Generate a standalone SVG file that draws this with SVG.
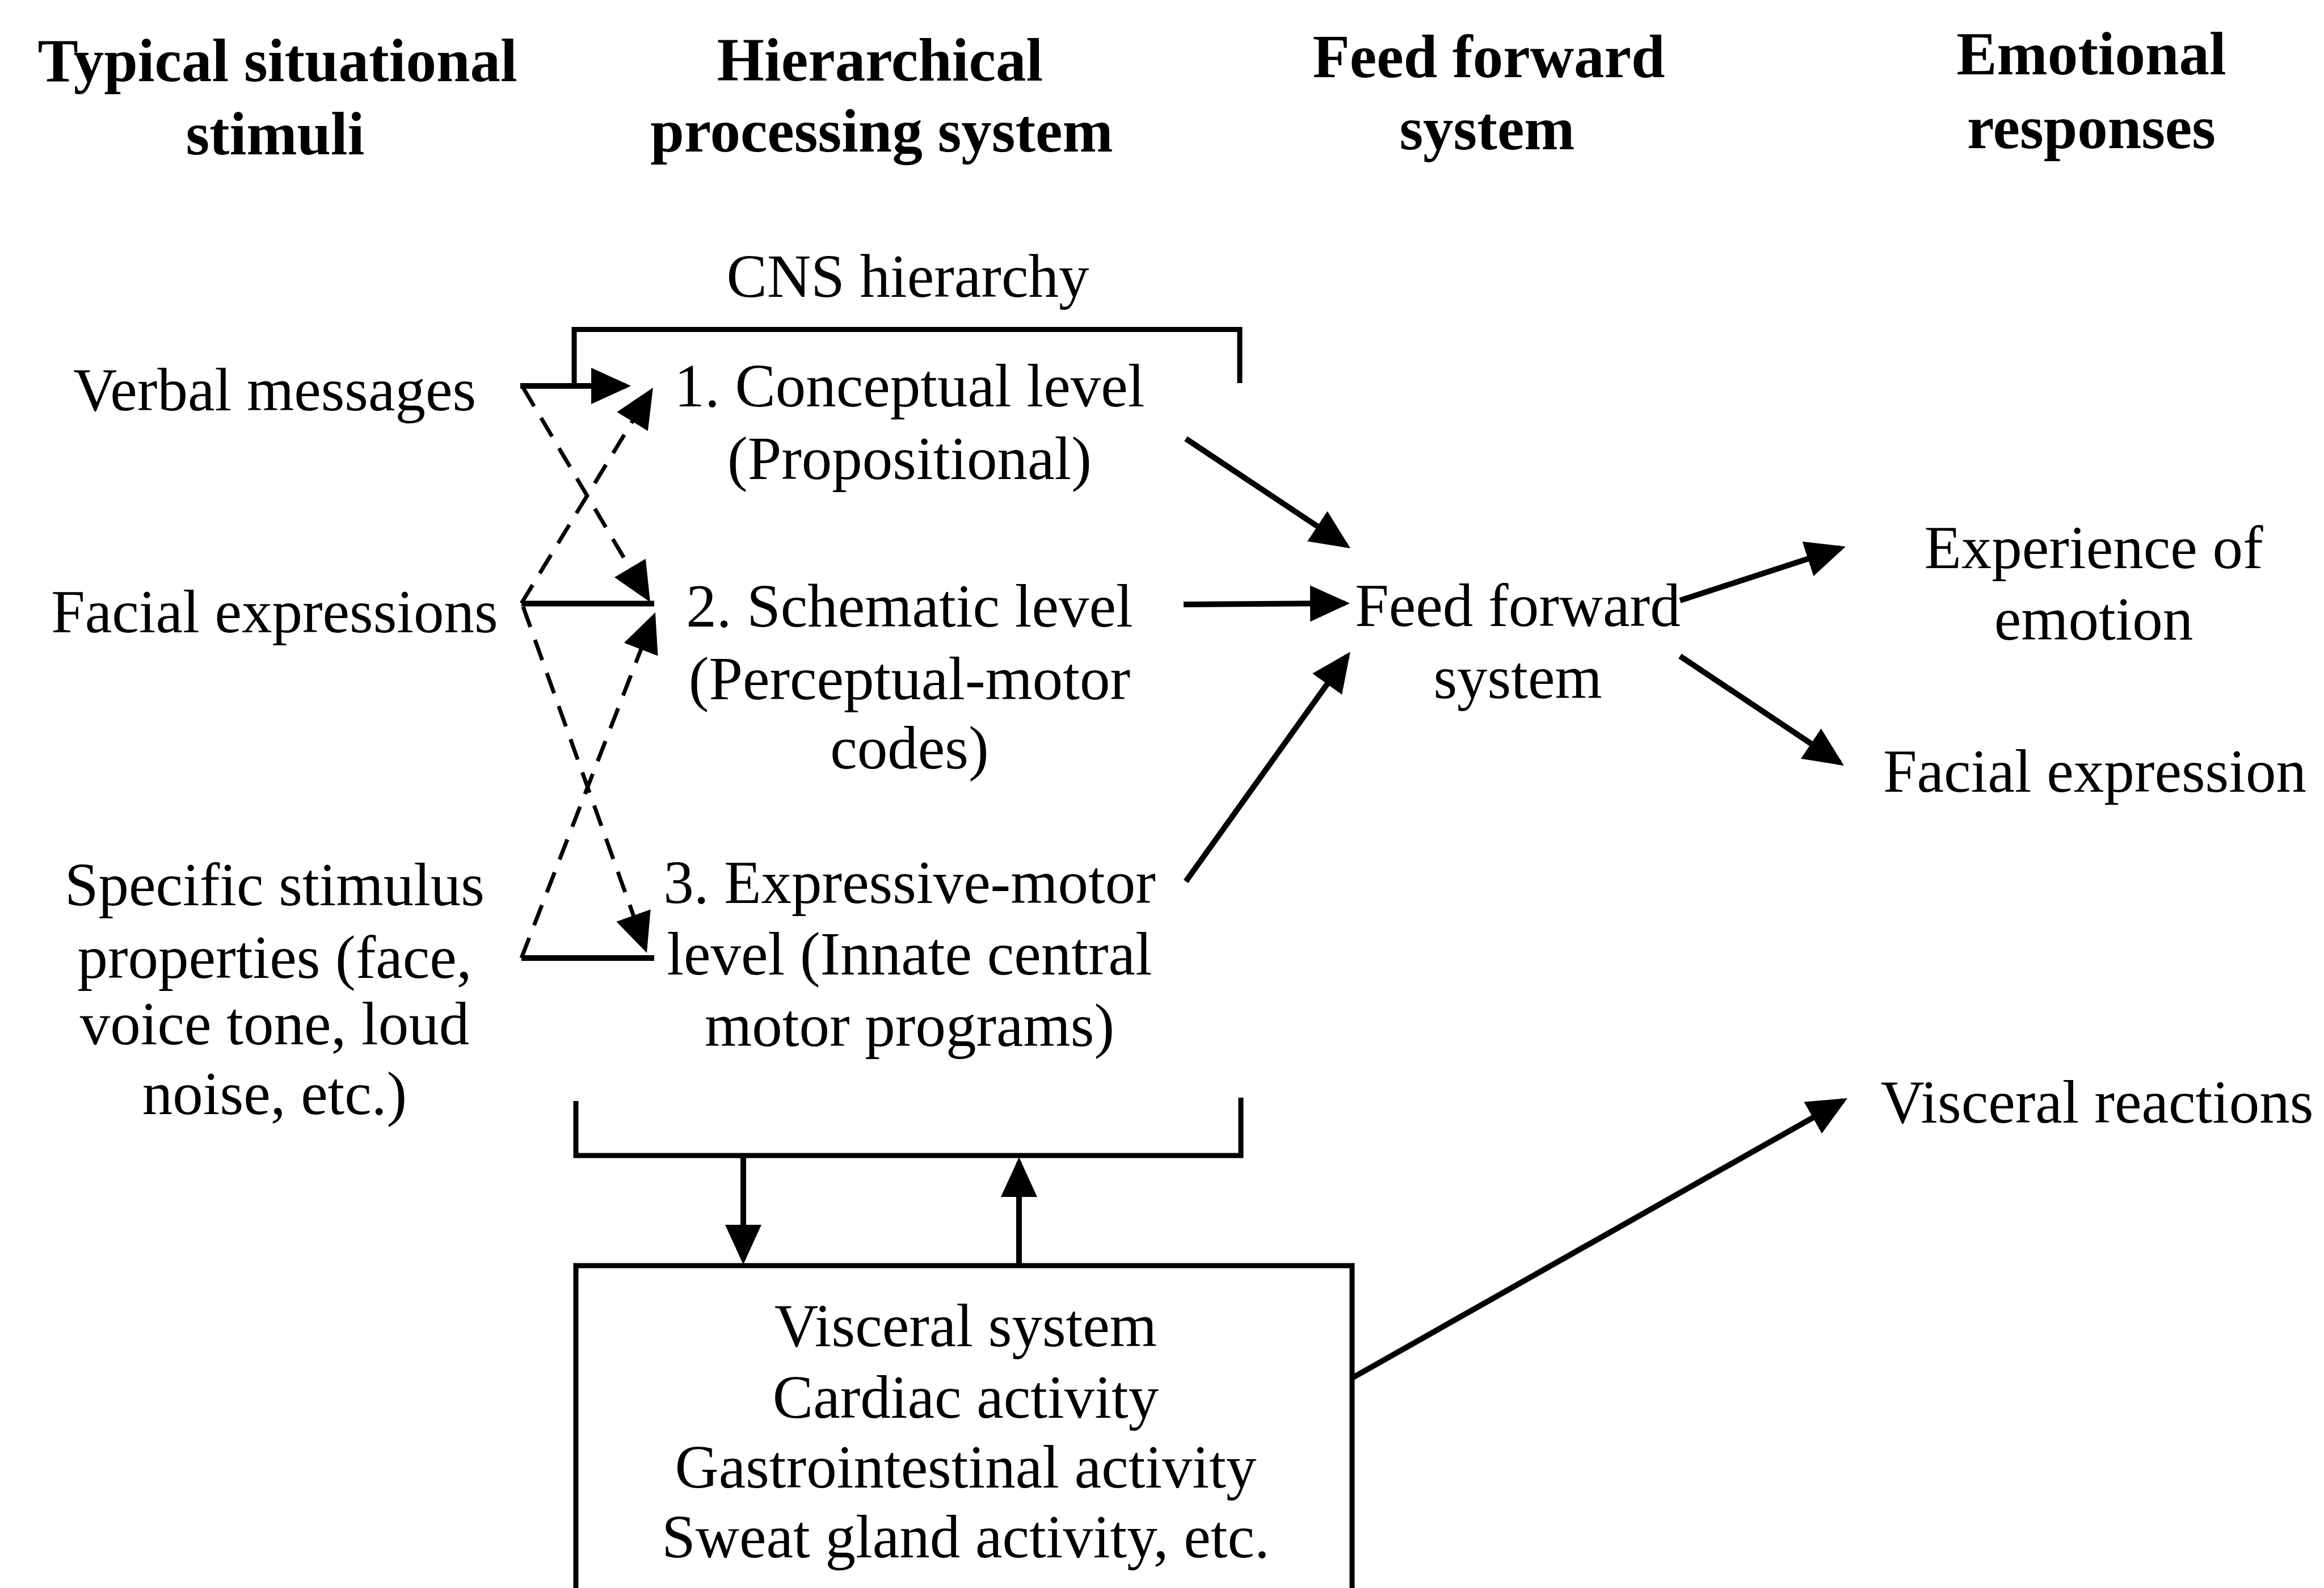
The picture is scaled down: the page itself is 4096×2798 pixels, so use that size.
<svg xmlns="http://www.w3.org/2000/svg" width="4096" height="2798" viewBox="0 0 4096 2798">
<style>
text{font-family:"Liberation Serif","Times New Roman",serif;font-size:107px;fill:#000;text-anchor:middle}
.h{font-weight:bold}
.ln{fill:none;stroke:#000;stroke-width:10;stroke-linecap:butt}
.br{fill:none;stroke:#000;stroke-width:9;stroke-linejoin:miter}
.ds{fill:none;stroke:#000;stroke-width:7;stroke-dasharray:38 24}
.bx{fill:none;stroke:#000;stroke-width:9}
</style>
<defs>
<marker id="ah" viewBox="0 0 70 64" refX="61" refY="32" markerWidth="70" markerHeight="64" markerUnits="userSpaceOnUse" orient="auto">
<path d="M0,0 L70,32 L0,64 Z" fill="#000"/>
</marker>
</defs>
<rect width="4096" height="2798" fill="#fff"/>
<g id="headers">
<text class="h" x="489" y="143">Typical situational</text>
<text class="h" x="485" y="272">stimuli</text>
<text class="h" x="1551" y="142">Hierarchical</text>
<text class="h" x="1554" y="267">processing system</text>
<text class="h" x="2624" y="136">Feed forward</text>
<text class="h" x="2621" y="263">system</text>
<text class="h" x="3686" y="131">Emotional</text>
<text class="h" x="3686" y="261">responses</text>
</g>
<g id="cns-hierarchy">
<text x="1600" y="523">CNS hierarchy</text>
<path class="br" d="M1012,680 V580.5 H2185 V675"/>
<path class="br" d="M1015,1940 V2036 H2187 V1934"/>
</g>
<g id="verbal-messages"><text x="484" y="723">Verbal messages</text></g>
<g id="facial-expressions"><text x="484" y="1114">Facial expressions</text></g>
<g id="specific-stimulus">
<text x="484" y="1595">Specific stimulus</text>
<text x="484" y="1723">properties (face,</text>
<text x="484" y="1840">voice tone, loud</text>
<text x="484" y="1963">noise, etc.)</text>
</g>
<g id="level-1">
<text x="1603" y="716">1. Conceptual level</text>
<text x="1603" y="844">(Propositional)</text>
</g>
<g id="level-2">
<text x="1603" y="1104">2. Schematic level</text>
<text x="1603" y="1232">(Perceptual-motor</text>
<text x="1603" y="1354">codes)</text>
</g>
<g id="level-3">
<text x="1603" y="1591">3. Expressive-motor</text>
<text x="1603" y="1717">level (Innate central</text>
<text x="1603" y="1843">motor programs)</text>
</g>
<g id="feed-forward">
<text x="2675" y="1103">Feed forward</text>
<text x="2675" y="1230">system</text>
</g>
<g id="experience">
<text x="3690" y="1001">Experience of</text>
<text x="3690" y="1127">emotion</text>
</g>
<g id="facial-expression"><text x="3692" y="1395">Facial expression</text></g>
<g id="visceral-reactions"><text x="3696" y="1978">Visceral reactions</text></g>
<g id="visceral-system">
<rect class="bx" x="1015" y="2230" width="1368" height="700"/>
<text x="1702" y="2372">Visceral system</text>
<text x="1702" y="2498">Cardiac activity</text>
<text x="1702" y="2621">Gastrointestinal activity</text>
<text x="1702" y="2744">Sweat gland activity, etc.</text>
</g>
<g id="connectors">
<path class="ln" d="M917,680 H1103" marker-end="url(#ah)"/>
<path class="ln" d="M919,1063.5 H1153"/>
<path class="ln" d="M919,1688 H1153"/>
<path class="ds" d="M919,1063 L1146.3,690.7" marker-end="url(#ah)"/>
<path class="ds" d="M922,683 L1141.4,1053.3" marker-end="url(#ah)"/>
<path class="ds" d="M919,1688 L1151.7,1087.4" marker-end="url(#ah)"/>
<path class="ds" d="M922,1069 L1137,1670.5" marker-end="url(#ah)"/>
<path class="ln" d="M2090,773 L2372.5,961" marker-end="url(#ah)"/>
<path class="ln" d="M2086,1065 L2370,1063" marker-end="url(#ah)"/>
<path class="ln" d="M2090,1553 L2374.6,1155.8" marker-end="url(#ah)"/>
<path class="ln" d="M2961,1058 L3244.4,965.8" marker-end="url(#ah)"/>
<path class="ln" d="M2961,1156 L3242.5,1344" marker-end="url(#ah)"/>
<path class="ln" d="M2383,2428 L3248.2,1939.4" marker-end="url(#ah)"/>
<path class="ln" d="M1310,2036 V2219" marker-end="url(#ah)"/>
<path class="ln" d="M1796,2230 V2048" marker-end="url(#ah)"/>
</g>
</svg>
